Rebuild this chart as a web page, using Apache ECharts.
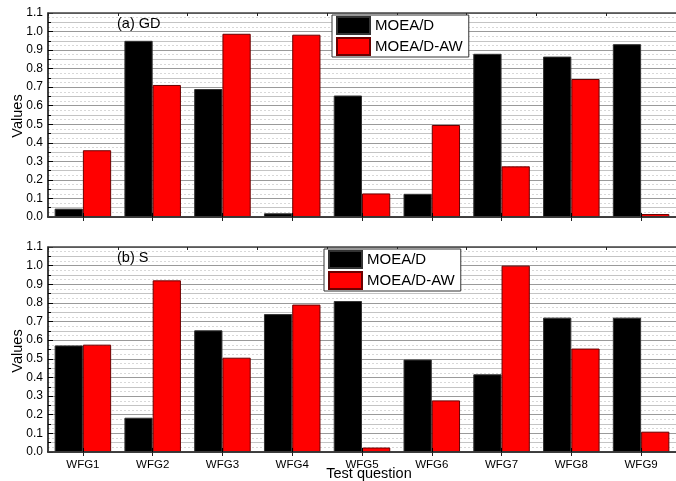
<!DOCTYPE html>
<html>
<head>
<meta charset="utf-8">
<script src="https://cdn.jsdelivr.net/npm/echarts@6/dist/echarts.min.js"></script>
<style>html,body{margin:0;padding:0;background:#fff}#c{width:676px;height:481px}</style>
</head>
<body>
<div id="c"></div>
<script>
const categories = ['WFG1','WFG2','WFG3','WFG4','WFG5','WFG6','WFG7','WFG8','WFG9'];
const gdMOEAD   = [0.045, 0.95, 0.69, 0.02, 0.655, 0.125, 0.88, 0.865, 0.932];
const gdMOEADAW = [0.36, 0.712, 0.988, 0.983, 0.127, 0.496, 0.273, 0.744, 0.016];
const sMOEAD    = [0.572, 0.184, 0.653, 0.740, 0.810, 0.496, 0.417, 0.721, 0.721];
const sMOEADAW  = [0.576, 0.921, 0.506, 0.791, 0.024, 0.277, 1.0, 0.555, 0.109];
const yTicks = {min: 0, max: 1.1, interval: 0.1};
const seriesNames = ['MOEA/D', 'MOEA/D-AW'];

const FONT = "'Liberation Sans', Arial, sans-serif";
const chart = echarts.init(document.getElementById('c'), null, {renderer: 'canvas'});

const grids = [
  {left: 48, top: 13, width: 633, height: 204},
  {left: 48, top: 247, width: 633, height: 205}
];

function xBottom(gi, showLabels) {
  return {
    type: 'category', gridIndex: gi, data: categories, position: 'bottom',
    axisLine: {lineStyle: {color: '#000', width: 1.5}},
    axisTick: {show: true, inside: true, alignWithLabel: true, length: 4, lineStyle: {color: '#000'}},
    axisLabel: {show: showLabels, color: '#000', fontSize: 11.5, fontFamily: FONT, margin: 7},
    splitLine: {show: false}, z: 5
  };
}
function xTop(gi, align) {
  return {
    type: 'category', gridIndex: gi, data: categories, position: 'top',
    axisLine: {lineStyle: {color: '#444', width: 1.5}},
    axisTick: {show: true, inside: true, alignWithLabel: align, length: align ? 4 : 3, lineStyle: {color: '#222'}},
    axisLabel: {show: false}, splitLine: {show: false}, z: 5
  };
}
function yMain(gi) {
  return {
    type: 'value', gridIndex: gi, min: yTicks.min, max: yTicks.max, interval: yTicks.interval,
    axisLine: {show: true, lineStyle: {color: '#000', width: 1.5}},
    axisTick: {show: true, inside: true, length: 5, lineStyle: {color: '#000'}},
    minorTick: {show: true, splitNumber: 2, length: 3, lineStyle: {color: '#000'}},
    axisLabel: {color: '#000', fontSize: 12, fontFamily: FONT, margin: 5,
      formatter: v => v.toFixed(1)},
    splitLine: {show: true, lineStyle: {color: '#9a9a9a', width: 1}},
    minorSplitLine: {show: true, lineStyle: {color: '#c4c4c4', width: 1}},
    z: 3
  };
}
function yDotted(gi) {
  return {
    type: 'value', gridIndex: gi, min: yTicks.min, max: yTicks.max, interval: 0.025,
    position: 'left',
    axisLine: {show: false}, axisTick: {show: false}, axisLabel: {show: false},
    splitLine: {show: true, lineStyle: {color: '#d8d8d8', width: 1, type: [2, 2]}},
    z: 1
  };
}
function barSeries(name, data, xi, yi, color, border) {
  return {
    name: name, type: 'bar', xAxisIndex: xi, yAxisIndex: yi, data: data,
    barGap: '0%', barCategoryGap: '19%',
    itemStyle: {color: color, borderColor: border, borderWidth: 1},
    z: 4
  };
}
function legendAt(left, top) {
  return {
    data: seriesNames, left: left, top: top, orient: 'vertical',
    icon: 'rect', itemWidth: 33, itemHeight: 17, itemGap: 2, itemTextGap: 4,
    padding: [1, 6, 1, 4], borderColor: '#333', borderWidth: 1, backgroundColor: '#fff',
    textStyle: {color: '#000', fontSize: 15, fontFamily: FONT}, z: 10
  };
}

chart.setOption({
  animation: false,
  backgroundColor: '#fff',
  grid: grids,
  title: [
    {text: '(a) GD', left: 117, top: 16, padding: 0,
     textStyle: {fontSize: 14.5, fontWeight: 'normal', color: '#000', fontFamily: FONT}},
    {text: '(b) S', left: 117, top: 250, padding: 0,
     textStyle: {fontSize: 14.5, fontWeight: 'normal', color: '#000', fontFamily: FONT}}
  ],
  legend: [legendAt(332, 15), legendAt(324, 249)],
  xAxis: [xBottom(0, false), xTop(0, true), xBottom(1, true), xTop(1, true), xTop(0, false), xTop(1, false)],
  yAxis: [yMain(0), yDotted(0), yMain(1), yDotted(1)],
  series: [
    barSeries(seriesNames[0], gdMOEAD, 0, 0, '#000', '#333'),
    barSeries(seriesNames[1], gdMOEADAW, 0, 0, '#ff0000', '#6a0000'),
    barSeries(seriesNames[0], sMOEAD, 2, 2, '#000', '#333'),
    barSeries(seriesNames[1], sMOEADAW, 2, 2, '#ff0000', '#6a0000')
  ],
  graphic: [
    {type: 'text', x: 18, y: 116, rotation: Math.PI / 2,
     style: {text: 'Values', fill: '#000', fontSize: 14.5, fontFamily: FONT, align: 'center', verticalAlign: 'middle'}},
    {type: 'text', x: 18, y: 351, rotation: Math.PI / 2,
     style: {text: 'Values', fill: '#000', fontSize: 14.5, fontFamily: FONT, align: 'center', verticalAlign: 'middle'}},
    {type: 'text', x: 369, y: 474,
     style: {text: 'Test question', fill: '#000', fontSize: 14.5, fontFamily: FONT, align: 'center', verticalAlign: 'middle'}}
  ]
});
</script>
</body>
</html>
